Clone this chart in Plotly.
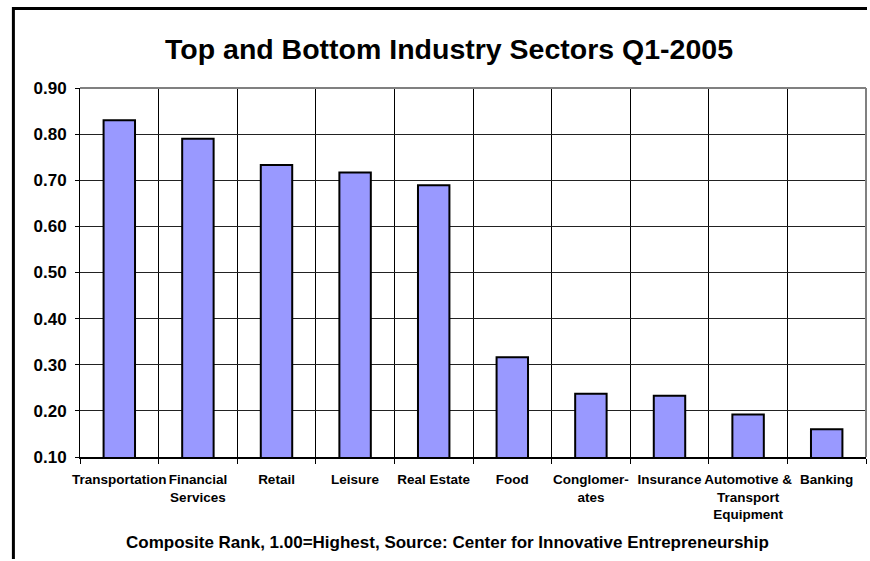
import plotly.graph_objects as go

categories = ["Transportation", "Financial<br>Services", "Retail", "Leisure", "Real Estate",
              "Food", "Conglomer-<br>ates", "Insurance", "Automotive &<br>Transport<br>Equipment", "Banking"]
values = [0.830, 0.790, 0.733, 0.717, 0.689, 0.316, 0.237, 0.233, 0.192, 0.160]
y_ticks = [0.10, 0.20, 0.30, 0.40, 0.50, 0.60, 0.70, 0.80, 0.90]
title_text = "Top and Bottom Industry Sectors Q1-2005"
footer_text = "Composite Rank, 1.00=Highest, Source: Center for Innovative Entrepreneurship"

FONT = "Liberation Sans, Arial, sans-serif"
n = len(categories)
xs = list(range(n))
boundaries = [i - 0.5 for i in range(n + 1)]

fig = go.Figure()
fig.add_trace(go.Bar(
    x=xs, y=values, width=0.4,
    marker=dict(color="#9999FF", line=dict(color="black", width=2)),
    hoverinfo="y",
))

W, H = 870, 561
L, R, T, B = 80, 4, 88, 104
pw, ph = W - L - R, H - T - B

def px_x(p):
    return (p - L) / pw

def px_y(p):
    return (H - B - p) / ph

fig.update_layout(
    width=W, height=H,
    margin=dict(l=L, r=R, t=T, b=B),
    paper_bgcolor="white", plot_bgcolor="white",
    font=dict(family=FONT, color="black", size=13, weight="bold"),
    showlegend=False,
    bargap=0.6,
    xaxis=dict(
        range=[-0.5, n - 0.5],
        tickmode="array", tickvals=xs, ticktext=categories,
        tickangle=0, ticks="", showgrid=False,
        tickfont=dict(size=13.5, family=FONT, weight="bold"),
        ticklabelstandoff=9,
        showline=True, linecolor="black", linewidth=2,
        zeroline=False,
        minor=dict(tickmode="array", tickvals=boundaries, ticks="outside", ticklen=5,
                   tickcolor="black", tickwidth=1, showgrid=True, gridcolor="black", gridwidth=1),
    ),
    yaxis=dict(
        range=[0.1, 0.9], tickmode="array", tickvals=y_ticks, tickformat=".2f",
        ticks="outside", ticklen=4, tickcolor="black",
        showgrid=True, gridcolor="#222222", gridwidth=1,
        showline=True, linecolor="black", linewidth=1,
        zeroline=False,
        tickfont=dict(size=17, family=FONT, weight="bold"),
        ticklabelstandoff=5,
    ),
    annotations=[
        dict(text=title_text, xref="paper", yref="paper", x=px_x(448.7), y=px_y(49),
             xanchor="center", yanchor="middle", showarrow=False,
             font=dict(size=28.5, family=FONT, weight="bold", color="black")),
        dict(text=footer_text, xref="paper", yref="paper", x=px_x(447), y=px_y(542),
             xanchor="center", yanchor="middle", showarrow=False,
             font=dict(size=17, family=FONT, weight="bold", color="black")),
    ],
    shapes=[
        # plot area top and right borders (gray)
        dict(type="line", xref="paper", yref="paper", x0=0, x1=1, y0=1, y1=1,
             line=dict(color="#808080", width=2), layer="above"),
        dict(type="line", xref="paper", yref="paper", x0=1, x1=1, y0=0, y1=1,
             line=dict(color="#808080", width=2), layer="above"),
        # outer chart frame (top and left)
        dict(type="line", xref="paper", yref="paper", x0=px_x(12), x1=px_x(867),
             y0=px_y(8.5), y1=px_y(8.5), line=dict(color="black", width=3)),
        dict(type="line", xref="paper", yref="paper", x0=px_x(13.4), x1=px_x(13.4),
             y0=px_y(7), y1=px_y(559), line=dict(color="black", width=3)),
    ],
)

fig.write_html("out.html", config={"displayModeBar": False})
